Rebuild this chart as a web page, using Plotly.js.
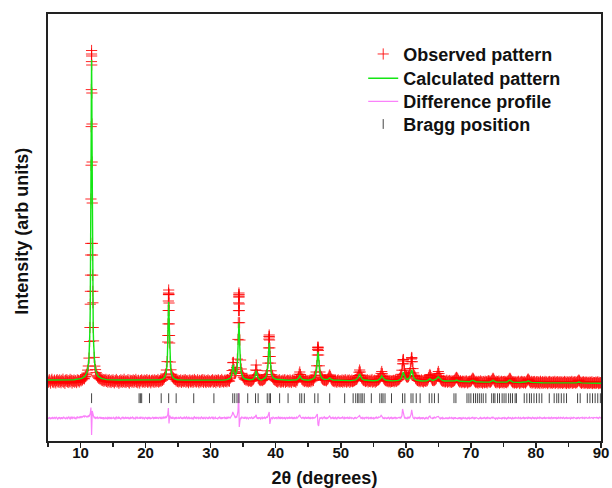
<!DOCTYPE html>
<html>
<head>
<meta charset="utf-8">
<script src="https://cdn.plot.ly/plotly-3.0.1.min.js"></script>
<style>html,body{margin:0;padding:0;background:#fff}#chart{width:612px;height:488px}</style>
</head>
<body>
<div id="chart"></div>
<script>
// Observed scan: 2theta start/step and intensities (arb units), rows = 1 degree
const obsStart = 5.0;
const obsStep = 0.1;
const obsY = [
601,588,612,596,579,605,617,590,598,584,
609,595,581,603,614,592,600,586,611,597,
583,606,594,618,589,600,577,608,596,613,
591,604,585,599,616,593,607,580,602,595,
610,588,603,597,584,612,599,606,590,603,
614,602,619,611,625,628,622,641,647,663,
679,709,750,829,995,1368,2420,3905,2380,1382,
1001,836,749,714,684,657,642,639,627,630,
618,625,609,621,604,614,597,611,603,616,
596,609,588,603,614,591,600,585,607,595,
611,593,582,604,598,615,589,601,594,578,
603,590,612,597,586,606,594,617,589,600,
585,602,596,613,590,579,608,597,604,588,
599,611,587,603,594,616,590,602,583,607,
595,580,604,598,612,589,601,593,609,586,
602,597,614,588,603,591,608,596,582,605,
593,609,598,586,611,600,590,604,597,615,
589,603,595,608,599,614,607,621,618,635,
648,670,710,794,990,1400,1380,980,790,712,
668,648,635,629,621,617,614,601,612,595,
607,590,603,596,611,586,599,605,592,609,
597,613,588,602,594,606,583,600,611,591,
604,592,608,587,600,615,594,603,589,598,
612,595,583,606,599,590,608,596,614,587,
600,609,593,585,604,597,611,589,602,594,
590,605,598,613,588,601,596,609,584,603,
607,594,611,599,586,604,592,615,600,597,
589,602,610,595,605,592,613,600,608,598,
627,639,658,705,783,786,714,675,683,696,
734,819,1016,1381,1370,1010,810,720,677,655,
640,632,618,624,611,620,605,615,598,609,
605,597,611,598,609,613,620,632,658,710,
760,706,660,630,622,610,616,604,612,610,
604,615,617,622,630,643,663,702,779,931,
1060,931,779,702,663,643,630,618,617,606,
610,596,603,589,607,594,612,598,586,601,
595,609,591,603,614,587,600,596,608,592,
604,590,611,598,585,602,609,594,606,597,
600,588,611,604,622,640,668,690,665,641,
620,618,604,611,595,602,607,593,606,598,
589,604,597,610,592,611,601,616,605,628,
639,657,690,752,860,940,860,752,690,657,
639,628,620,615,609,611,605,614,602,614,
619,630,648,660,645,628,617,603,611,598,
605,592,609,597,587,603,611,594,600,590,
603,596,610,588,601,607,593,612,597,589,
608,594,602,611,586,600,597,609,593,604,
598,606,611,614,617,622,634,655,688,710,
690,657,632,624,613,609,603,612,595,606,
599,611,590,604,596,608,593,602,615,589,
601,595,607,588,604,598,606,612,613,619,
629,648,676,695,672,645,628,617,611,604,
608,597,603,592,606,599,589,604,595,600,
598,606,592,603,611,595,600,609,614,612,
621,630,643,667,708,772,815,772,708,670,
654,644,639,640,645,657,681,724,793,835,
793,724,681,655,645,628,620,612,605,610,
598,607,593,604,611,596,602,590,606,603,
600,597,612,604,618,633,652,665,652,633,
620,607,612,603,609,613,619,629,648,676,
695,674,645,627,615,607,602,596,605,592,
603,591,598,607,588,600,594,605,590,599,
586,602,593,598,604,608,620,630,636,628,
618,605,597,589,602,593,584,598,590,596,
583,597,588,601,592,580,595,589,598,594,
600,608,619,628,620,609,598,590,584,596,
588,579,596,590,584,601,587,593,578,595,
590,583,598,586,592,580,597,602,588,599,
588,596,605,618,627,620,606,594,585,598,
582,594,587,600,579,591,585,597,583,590,
594,580,596,587,592,583,598,592,607,620,
627,619,606,596,590,583,594,580,592,586,
579,592,584,597,588,575,590,583,596,587,
590,581,594,586,580,592,600,611,620,611,
602,590,584,596,579,588,593,582,595,577,
586,592,578,594,583,589,575,597,585,580,
593,577,588,584,596,580,590,586,574,591,
583,595,579,590,585,576,592,587,581,596,
578,589,585,593,574,588,582,594,579,586,
591,576,587,583,595,580,589,575,592,584,
580,593,578,588,584,596,577,590,582,587,
594,579,588,583,596,602,610,601,590,584,
577,589,583,592,576,586,580,591,584,575,
588,581,576,590,583,579,592,574,586,580,
583,576,589,579,585,591,574,587,578,584,
580
];
// Extra observed points on the flanks of the strong reflections
const obsExtraX = [11.45,11.52,11.54,11.56,11.57,11.62,11.64,11.66,11.68,11.69,11.71,11.72,11.74,11.76,11.78,11.83,11.84,11.86,11.88,11.95,
  23.42,23.45,23.48,23.52,23.53,23.55,23.57,23.58,23.62,23.65,23.68,
  34.25,34.28,34.32,34.33,34.35,34.37,34.38,34.42,34.45,
  38.85,38.95,38.97,39.03,39.05,39.15,
  46.45,46.48,46.52,46.55,
  59.55,59.62,60.85,60.93];
const obsExtraY = [1135,1497,1659,1860,1976,2758,3144,3514,3794,3870,3850,3760,3480,3170,2790,1976,1860,1659,1497,1135,
  1055,1171,1305,1464,1480,1510,1470,1464,1305,1171,1055,
  1183,1304,1441,1462,1480,1462,1441,1304,1183,
  845,1019,1045,1040,1010,845,
  915,935,930,905,
  800,812,820,828];

// Calculated pattern
const calcX = [5,7,9,10.2,10.7,11.0,11.2,11.3,11.4,11.45,11.5,11.54,11.57,11.6,11.62,11.64,11.66,11.68,11.7,11.72,11.74,11.76,11.78,11.8,11.83,11.86,11.9,11.95,12.0,12.1,12.2,12.4,12.7,13.2,14,16,19,21,
  22.25,22.65,22.95,23.15,23.25,23.35,23.4,23.45,23.47,23.5,23.52,23.55,23.58,23.6,23.63,23.65,23.7,23.75,23.85,23.95,24.15,24.45,24.85,26,28,30,32,
  32.5,33.0,33.2,33.3,33.4,33.45,33.5,33.6,33.7,33.8,33.9,34.0,34.1,34.2,34.25,34.3,34.35,34.4,34.45,34.5,34.6,34.7,34.8,35.0,35.3,35.7,36.0,
  36.5,36.7,36.8,36.9,37.0,37.1,37.2,37.3,37.5,37.8,
  38.0,38.4,38.6,38.7,38.8,38.85,38.9,38.95,39.0,39.05,39.1,39.15,39.2,39.3,39.4,39.6,40.0,41,42,
  43.2,43.4,43.5,43.6,43.7,43.8,43.9,44.0,44.3,45,
  45.5,45.9,46.1,46.2,46.3,46.35,46.4,46.45,46.5,46.55,46.6,46.65,46.7,46.8,46.9,47.1,47.5,
  47.9,48.1,48.2,48.3,48.4,48.5,48.8,50,51.5,
  52.3,52.5,52.7,52.8,52.9,53.0,53.1,53.3,53.6,55,
  55.7,55.9,56.1,56.2,56.3,56.4,56.5,56.7,57.0,58,
  58.8,59.1,59.3,59.4,59.5,59.6,59.7,59.8,59.9,60.0,60.2,60.4,60.6,60.7,60.8,60.9,61.0,61.1,61.2,61.4,61.7,62.5,
  63.2,63.5,63.6,63.7,63.8,63.9,64.2,64.5,64.7,64.85,64.9,65.0,65.1,65.3,65.6,66.0,
  67.3,67.6,67.8,68.0,68.3,69.8,70.1,70.3,70.5,70.8,72,72.9,73.2,73.4,73.6,73.9,
  75.5,75.8,76.0,76.2,76.5,77.5,78.3,78.6,78.8,79.0,79.3,81,83,85,86.2,86.6,87.0,88,90];
const calcY = [610,610,612,626,648,687,757,834,991,1128,1352,1637,1944,2364,2703,3077,3436,3708,3810,3708,3436,3077,2703,2364,1944,1637,1352,1128,991,834,757,687,648,626,614,610,608,608,
  613,621,640,680,729,838,942,1098,1174,1289,1350,1390,1350,1289,1174,1098,942,838,729,680,640,621,613,609,608,608,610,
  614,628,653,688,746,762,750,697,670,665,673,697,752,881,993,1122,1183,1118,990,878,745,687,659,633,620,614,612,
  616,627,642,674,703,674,642,627,616,611,
  617,633,660,691,754,808,878,950,983,950,878,808,754,691,660,633,617,610,608,
  612,620,628,642,653,642,628,620,612,608,
  615,630,654,681,734,774,824,870,891,870,824,774,734,681,654,630,615,
  612,618,626,631,626,618,610,605,604,
  611,620,636,656,669,656,636,620,610,603,
  608,615,627,642,652,642,627,615,607,601,
  606,614,628,645,672,690,673,648,634,623,617,620,637,658,690,712,690,655,634,615,607,600,
  603,612,618,623,618,612,606,610,620,632,636,643,636,620,606,600,
  597,603,609,603,597,593,600,608,600,593,589,590,598,609,598,590,
  589,598,610,598,589,585,586,592,601,592,586,582,581,580,581,589,581,579,577];

// Difference profile (obs - calc, offset), same grid as the observed scan
const diffY = [
232,221,238,227,219,235,226,240,224,230,
236,223,229,241,226,218,233,228,239,222,
227,238,220,231,243,225,234,219,230,237,
224,233,241,228,220,236,229,244,226,232,
239,226,231,222,237,245,229,234,240,231,
243,235,248,238,244,250,241,252,246,240,
248,238,251,242,260,275,335,60,300,262,
248,232,240,226,235,229,238,224,231,236,
228,240,223,233,226,238,221,230,235,224,
231,222,236,227,241,225,232,219,234,228,
226,237,230,220,233,240,224,229,238,222,
235,227,219,232,238,226,241,223,230,236,
222,233,229,240,225,231,219,236,228,234,
239,224,232,227,221,237,230,243,226,231,
228,235,222,238,230,224,236,229,220,233,
237,226,231,223,240,228,234,219,231,225,
230,238,224,233,227,241,222,235,229,236,
224,232,238,226,235,221,233,240,228,237,
230,242,236,249,262,330,175,255,238,226,
234,223,238,229,221,236,227,240,225,231,
227,236,222,233,239,226,231,220,235,229,
238,225,232,240,224,230,237,221,234,228,
223,235,229,220,236,242,227,233,225,238,
231,224,237,228,222,235,240,226,232,219,
236,229,223,238,231,225,234,221,239,230,
225,233,240,227,236,222,230,238,224,232,
229,221,235,231,240,226,233,219,237,228,
234,238,225,232,221,236,229,242,231,236,
229,238,245,262,290,270,248,236,230,244,
238,262,300,480,140,200,235,226,240,231,
227,235,222,239,230,224,236,229,221,233,
236,226,232,240,225,230,223,245,236,250,
262,225,232,221,237,228,234,220,231,238,
224,233,229,238,226,235,240,231,262,275,
290,170,215,236,228,222,239,230,224,233,
229,238,223,231,240,226,234,219,236,228,
235,224,232,227,239,221,230,236,225,233,
228,237,223,234,229,241,226,232,220,236,
231,225,238,229,236,249,258,262,240,230,
226,235,229,240,224,231,237,222,233,228,
238,227,233,221,236,230,224,239,228,233,
229,236,245,258,270,165,150,210,232,226,
235,228,222,237,231,240,226,233,219,234,
227,236,248,250,236,224,233,229,238,225,
232,224,237,228,221,235,230,239,226,231,
225,233,228,240,230,222,236,227,234,229,
237,226,232,221,238,229,224,235,230,227,
222,234,229,236,226,231,240,245,258,255,
238,227,233,224,236,229,221,234,230,238,
226,232,238,223,230,235,227,241,224,232,
233,221,229,236,225,238,230,227,240,233,
236,245,256,248,235,226,231,221,236,229,
224,232,227,238,230,221,234,228,236,223,
231,226,235,229,240,224,232,227,233,236,
230,238,226,235,252,320,282,240,231,226,
235,228,223,236,229,240,232,246,265,312,
262,235,228,223,237,230,225,232,221,234,
228,236,222,231,227,238,224,233,230,220,
232,225,236,229,221,238,244,250,233,226,
229,224,235,227,238,232,230,240,242,249,
246,236,228,221,233,226,235,222,230,227,
223,232,226,235,220,230,224,236,227,231,
236,224,230,221,233,227,238,225,232,229,
222,231,226,237,224,232,219,229,235,227,
230,224,233,226,219,231,227,236,222,228,
225,234,228,238,229,221,232,226,235,230,
233,226,220,231,228,236,223,229,225,234,
227,235,230,222,233,226,238,229,224,231,
224,230,236,229,240,232,225,231,219,227,
232,221,228,235,226,233,229,222,236,225,
229,236,223,231,227,220,233,226,238,232,
226,233,229,221,235,228,224,232,227,236,
234,225,231,238,224,230,236,222,229,233,
228,236,224,232,227,235,230,225,238,229,
235,227,233,223,230,237,226,232,221,234,
229,222,236,228,233,226,239,230,225,231,
224,233,229,237,222,231,227,235,230,226,
236,227,232,224,238,229,225,233,228,234,
229,235,223,231,226,238,232,224,236,230,
233,226,237,229,224,232,228,239,225,231,
227,234,230,221,236,228,233,226,238,232,
235,229,224,233,227,236,230,225,234,228,
231,238,226,230,235,224,229,237,231,226,
226,232,239,228,233,229,236,230,224,235,
233,227,231,236,228,234,225,232,238,230,
234
];

// Bragg reflection positions (2theta) and the level at which their ticks sit
const braggPos = [11.7,19.0,19.2,19.4,20.6,22.4,23.55,24.7,27.4,30.5,33.4,33.7,34.05,34.35,35.7,36.9,37.3,38.7,39.0,39.2,40.6,41.9,43.7,44.0,44.4,46.0,46.5,48.3,50.6,
  51.9,52.3,52.6,52.8,53.1,53.3,53.6,54.7,56.0,56.3,56.5,56.8,57.8,59.5,59.85,60.8,61.1,61.6,62.2,63.6,64.0,64.4,65.0,67.4,67.7,
  69.4,69.7,70.0,70.4,70.7,71.0,71.3,71.6,71.9,72.3,73.2,73.5,73.7,74.1,74.4,74.8,75.1,75.4,75.8,76.1,76.4,76.8,77.0,
  78.2,78.6,79.0,79.3,79.7,80.1,80.5,80.9,82.05,82.8,83.2,83.5,83.9,84.3,84.7,86.4,86.8,87.9,88.3,88.7,89.1,89.5,89.9];
const braggLevel = 428;

const seriesNames = ['Observed pattern','Calculated pattern','Difference profile','Bragg position'];
const xTickVals = [10,20,30,40,50,60,70,80,90];
const xTitle = '2θ (degrees)';
const yTitle = 'Intensity (arb units)';

// ---- build traces ----
const obsX = obsY.map((_, i) => +(obsStart + i * obsStep).toFixed(2));
const allObsX = obsX.concat(obsExtraX);
const allObsY = obsY.concat(obsExtraY);

const FONT = 'Liberation Sans, Arial, Helvetica, sans-serif';

const traces = [
  {
    type: 'scatter', mode: 'markers', name: seriesNames[0], legend: 'legend',
    x: allObsX, y: allObsY,
    marker: {symbol: 'cross-thin-open', size: 8, color: 'rgba(255,0,0,0.85)', line: {width: 1, color: 'rgba(255,0,0,0.85)'}}
  },
  {
    type: 'scatter', mode: 'lines', name: seriesNames[1], legend: 'legend2',
    x: calcX, y: calcY,
    line: {color: 'rgb(20,230,20)', width: 1.4}
  },
  {
    type: 'scatter', mode: 'lines', name: seriesNames[2], legend: 'legend3',
    x: obsX, y: diffY,
    line: {color: 'rgb(250,130,250)', width: 1.2}
  },
  {
    type: 'scatter', mode: 'markers', name: seriesNames[3], legend: 'legend4',
    x: braggPos, y: braggPos.map(() => braggLevel),
    marker: {symbol: 'line-ns-open', size: 7, color: '#444', line: {width: 1, color: '#444'}}
  }
];

function legendAt(yPaper) {
  return {
    x: 0.57, y: yPaper, xanchor: 'left', yanchor: 'top',
    bgcolor: 'rgba(0,0,0,0)', borderwidth: 0,
    font: {family: FONT, size: 18, weight: 'bold', color: '#111'},
    itemwidth: 30
  };
}

const layout = {
  width: 612, height: 488,
  margin: {l: 48, r: 11, t: 14, b: 47, pad: 0},
  paper_bgcolor: '#fff', plot_bgcolor: '#fff',
  font: {family: FONT, color: '#111', size: 15},
  showlegend: true,
  legend: legendAt(0.949),
  legend2: legendAt(0.892),
  legend3: legendAt(0.838),
  legend4: legendAt(0.785),
  xaxis: {
    range: [5, 90], autorange: false,
    showgrid: false, zeroline: false,
    showline: true, linecolor: '#222', linewidth: 2, mirror: true,
    ticks: 'outside', ticklen: 5, tickwidth: 1.5, tickcolor: '#222',
    tickvals: xTickVals, ticktext: xTickVals.map(String),
    ticklabelstandoff: -8,
    tickfont: {family: FONT, size: 15, weight: 'bold', color: '#111'},
    minor: {dtick: 5, tick0: 5, ticks: 'outside', ticklen: 4, tickwidth: 1.5, tickcolor: '#222'},
    title: {text: xTitle, font: {family: FONT, size: 18, weight: 'bold', color: '#111'}, standoff: 11},
    automargin: false
  },
  yaxis: {
    range: [0, 4270], autorange: false,
    showgrid: false, zeroline: false,
    showline: true, linecolor: '#222', linewidth: 2, mirror: true,
    ticks: '', showticklabels: false,
    automargin: false
  },
  annotations: [{
    text: yTitle, textangle: -90, showarrow: false,
    xref: 'paper', yref: 'paper', x: 0, y: 0.49, xanchor: 'center', yanchor: 'middle',
    xshift: -26,
    font: {family: FONT, size: 18, weight: 'bold', color: '#111'}
  }]
};

Plotly.newPlot('chart', traces, layout, {displayModeBar: false, staticPlot: true});
</script>
</body>
</html>
